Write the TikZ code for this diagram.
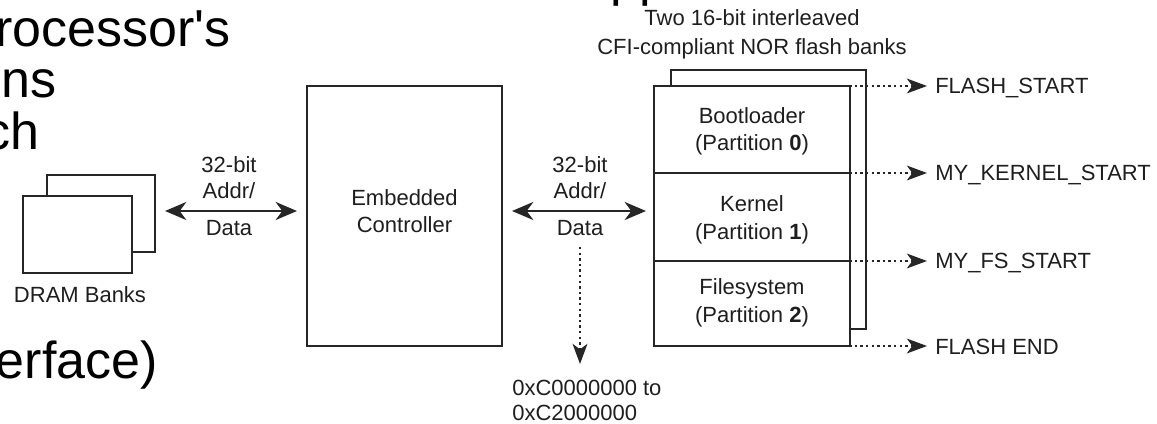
\documentclass[tikz,border=0pt]{standalone}
\usepackage{fontspec}
\setmainfont{Liberation Sans}
\usetikzlibrary{arrows.meta,calc}
\definecolor{ink}{HTML}{262626}
\definecolor{txt}{HTML}{1E1E1E}
\tikzset{
  box/.style={draw=ink, line width=2pt, fill=white, inner sep=0pt, outer sep=0pt},
  lbl/.style={font=\fontsize{16.5pt}{21pt}\selectfont, text=txt, inner sep=0pt, anchor=base},
  big/.style={font=\fontsize{39pt}{47pt}\selectfont, text=black, inner sep=0pt, anchor=base east},
  bushead/.tip={Stealth[length=16pt,width=13.5pt,inset=5pt]},
  dothead/.tip={Stealth[length=15pt,width=11pt,inset=4pt]},
  bus/.style={draw=ink, line width=2pt, bushead-bushead},
  dots/.style={draw=ink, line width=2pt, dash pattern=on 1.8pt off 2.4pt, -dothead},
}
\begin{document}
\begin{tikzpicture}[x=0.75pt, y=-0.75pt]
\useasboundingbox (0,0) rectangle (1157,424);
\clip (0,0) rectangle (1157,424);

% slide text running into the figure
\node[big] (t1) at (231,47) {rocessor\textquotesingle s};
\node[big] (t2) at (57,98) {ns};
\node[big] (t3) at (40,150) {ch};
\node[big] (t4) at (158,378) {erface)};
\node[big, anchor=base west] (t5) at (610,-4) {pp};

% DRAM banks
\node[box, minimum width=81pt, minimum height=57.75pt] (dramback) at (101,213.5) {};
\node[box, minimum width=81.75pt, minimum height=57.75pt] (dramfront) at (77.5,234.5) {};
\node[lbl] (dramlbl) at (80,302) {DRAM Banks};

% embedded controller
\node[box, minimum width=146.25pt, minimum height=195pt] (ctl) at (404.5,216) {};
\node[lbl] (ctl1) at (404.5,205) {Embedded};
\node[lbl] (ctl2) at (404.5,233) {Controller};

% NOR flash banks and partitions
\node[box, minimum width=146.25pt, minimum height=194.25pt] (flashback) at (768.5,199.5) {};
\node[box, minimum width=147pt, minimum height=65.25pt] (p0) at (752,129.5) {};
\node[box, minimum width=147pt, minimum height=66pt] (p1) at (752,217) {};
\node[box, minimum width=147pt, minimum height=63.75pt] (p2) at (752,303.5) {};
\node[lbl] (p0a) at (752,124) {Bootloader};
\node[lbl] (p0b) at (752,151) {(Partition \textbf{0})};
\node[lbl] (p1a) at (752,212) {Kernel};
\node[lbl] (p1b) at (752,239) {(Partition \textbf{1})};
\node[lbl] (p2a) at (752,294) {Filesystem};
\node[lbl] (p2b) at (752,322) {(Partition \textbf{2})};
\node[lbl] (fl1) at (752,26) {Two 16-bit interleaved};
\node[lbl] (fl2) at (752,55) {CFI-compliant NOR flash banks};

% bus labels
\node[lbl] (a1) at (229,173) {32-bit};
\node[lbl] (a2) at (229,199) {Addr/};
\node[lbl] (a3) at (229,235) {Data};
\node[lbl] (b1) at (580,173) {32-bit};
\node[lbl] (b2) at (580,199) {Addr/};
\node[lbl] (b3) at (580,235) {Data};

% buses
\draw[bus] ($(dramback.east |- 0,211)+(10,0)$) -- ($(ctl.west |- 0,211)+(-10,0)$);
\draw[bus] ($(ctl.east |- 0,211)+(10,0)$) -- ($(p1.west |- 0,211)+(-8,0)$);

% address window
\coordinate (hexend) at (580,364);
\node[lbl, anchor=base west] (h1) at (512,395) {0xC0000000 to};
\node[lbl, anchor=base west] (h2) at (512,420) {0xC2000000};
\draw[dots] (580,247) -- (hexend);

% partition boundaries
\node[lbl, anchor=base west] (m1) at (935,94) {FLASH\_START};
\node[lbl, anchor=base west] (m2) at (935,181) {MY\_KERNEL\_START};
\node[lbl, anchor=base west] (m3) at (935,268) {MY\_FS\_START};
\node[lbl, anchor=base west] (m4) at (935,354) {FLASH END};
\draw[dots] ($(p0.north east)+(-40,0)$) -- ($(m1.west |- p0.north)+(-8,0)$);
\draw[dots] ($(p0.south east)+(-40,0)$) -- ($(m2.west |- p0.south)+(-8,0)$);
\draw[dots] ($(p1.south east)+(-40,0)$) -- ($(m3.west |- p1.south)+(-8,0)$);
\draw[dots] ($(p2.south east)+(-40,0)$) -- ($(m4.west |- p2.south)+(-8,0)$);
\end{tikzpicture}
\end{document}
